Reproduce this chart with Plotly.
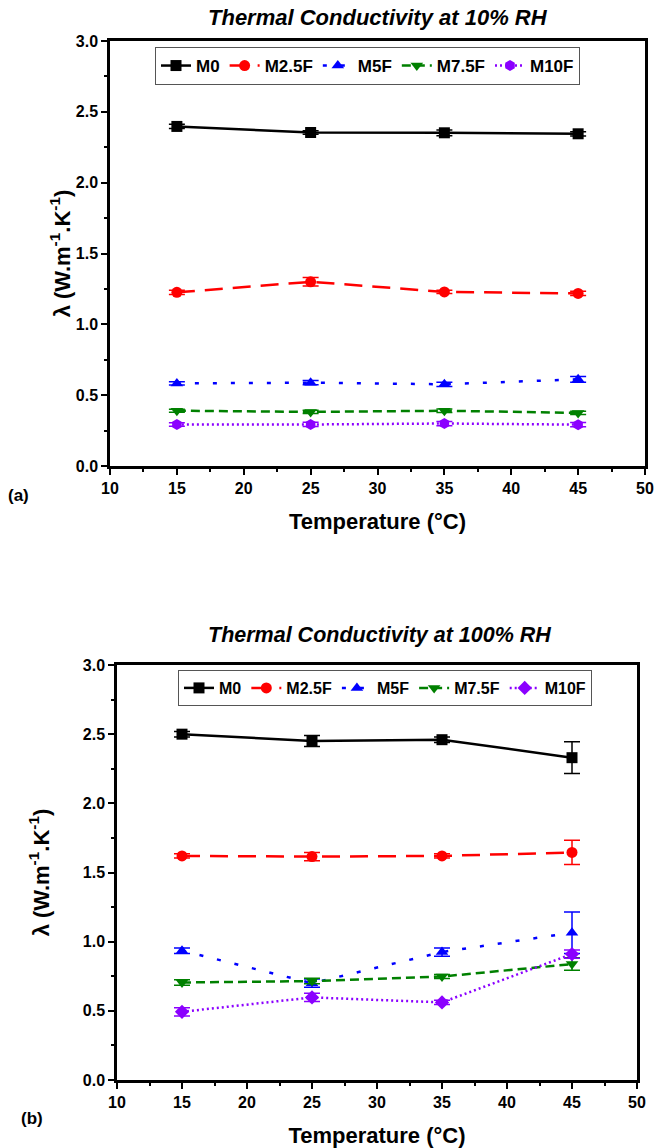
import plotly.graph_objects as go

temps = [15, 25, 35, 45]
series = ["M0", "M2.5F", "M5F", "M7.5F", "M10F"]

# 10% RH
rh10_M0 = [2.397, 2.354, 2.352, 2.345]
rh10_M25F = [1.226, 1.300, 1.229, 1.218]
rh10_M5F = [0.583, 0.588, 0.577, 0.612]
rh10_M75F = [0.390, 0.382, 0.390, 0.375]
rh10_M10F = [0.293, 0.293, 0.300, 0.292]
rh10_err_M0 = [0.015, 0.012, 0.02, 0.015]
rh10_err_M25F = [0.015, 0.03, 0.012, 0.015]
rh10_err_M5F = [0.012, 0.015, 0.015, 0.02]
rh10_err_M75F = [0.01, 0.012, 0.012, 0.012]
rh10_err_M10F = [0.012, 0.015, 0.015, 0.015]

# 100% RH
rh100_M0 = [2.500, 2.450, 2.460, 2.330]
rh100_M25F = [1.620, 1.615, 1.620, 1.645]
rh100_M5F = [0.935, 0.700, 0.925, 1.065]
rh100_M75F = [0.705, 0.715, 0.748, 0.838]
rh100_M10F = [0.493, 0.597, 0.561, 0.910]
rh100_err_M0 = [0.02, 0.04, 0.02, 0.115]
rh100_err_M25F = [0.015, 0.03, 0.015, 0.088]
rh100_err_M5F = [0.02, 0.03, 0.03, 0.15]
rh100_err_M75F = [0.02, 0.02, 0.015, 0.045]
rh100_err_M10F = [0.03, 0.03, 0.015, 0.03]

colors = ["black", "#ff0000", "#0000ff", "#008000", "#8b00ff"]
dashes = ["solid", "18px,10px", "4px,14px", "9px,5px", "2px,3px"]
sym_top = ["square", "circle", "triangle-up", "triangle-down", "hexagon"]
sym_bot = ["square", "circle", "triangle-up", "triangle-down", "diamond"]

top_vals = [rh10_M0, rh10_M25F, rh10_M5F, rh10_M75F, rh10_M10F]
top_errs = [rh10_err_M0, rh10_err_M25F, rh10_err_M5F, rh10_err_M75F, rh10_err_M10F]
bot_vals = [rh100_M0, rh100_M25F, rh100_M5F, rh100_M75F, rh100_M10F]
bot_errs = [rh100_err_M0, rh100_err_M25F, rh100_err_M5F, rh100_err_M75F, rh100_err_M10F]

FONT = "Liberation Sans, Arial, sans-serif"
fig = go.Figure()

for i, name in enumerate(series):
    fig.add_trace(go.Scatter(
        x=temps, y=top_vals[i], name=name, mode="lines+markers",
        line=dict(color=colors[i], width=2.5, dash=dashes[i]),
        marker=dict(symbol=sym_top[i], size=11, color=colors[i]),
        error_y=dict(type="data", array=top_errs[i], color=colors[i], thickness=1.5, width=8),
        xaxis="x", yaxis="y", legend="legend"))
for i, name in enumerate(series):
    fig.add_trace(go.Scatter(
        x=temps, y=bot_vals[i], name=name, mode="lines+markers",
        line=dict(color=colors[i], width=2.5, dash=dashes[i]),
        marker=dict(symbol=sym_bot[i], size=11, color=colors[i]),
        error_y=dict(type="data", array=bot_errs[i], color=colors[i], thickness=1.5, width=8),
        xaxis="x2", yaxis="y2", legend="legend2"))

W, H = 654, 1148
def px_x(p): return p / W
def px_y(p): return 1 - p / H

tickfont = dict(family=FONT, size=16, color="black", weight="bold")
titlefont = dict(family=FONT, size=22, color="black", weight="bold")

xcommon = dict(range=[10, 50], tickvals=[10, 15, 20, 25, 30, 35, 40, 45, 50], ticks="outside",
               ticklen=6, tickwidth=2, tickcolor="black", showline=True, linewidth=2.5,
               linecolor="black", mirror=True, showgrid=False, zeroline=False, tickfont=tickfont,
               automargin=False,
               minor=dict(ticks="outside", ticklen=3, tickwidth=2, tickcolor="black", dtick=2.5, tick0=10))
ycommon = dict(range=[0, 3.0], tickvals=[0, 0.5, 1.0, 1.5, 2.0, 2.5, 3.0],
               ticktext=["0.0", "0.5", "1.0", "1.5", "2.0", "2.5", "3.0"], ticks="outside",
               ticklen=6, tickwidth=2, tickcolor="black", showline=True, linewidth=2.5,
               linecolor="black", mirror=True, showgrid=False, zeroline=False, tickfont=tickfont,
               automargin=False,
               minor=dict(ticks="outside", ticklen=3, tickwidth=2, tickcolor="black", dtick=0.25, tick0=0))

ytitle = "λ (W.m<sup>-1</sup>.K<sup>-1</sup>)"

fig.update_layout(
    width=W, height=H, margin=dict(l=0, r=0, t=0, b=0, autoexpand=False),
    paper_bgcolor="white", plot_bgcolor="white",
    font=dict(family=FONT, color="black"),
    xaxis=dict(domain=[px_x(110), px_x(645)], anchor="y",
               title=dict(text="Temperature (°C)", font=titlefont, standoff=18), **xcommon),
    yaxis=dict(domain=[px_y(466), px_y(41)], anchor="x",
               title=dict(text=ytitle, font=titlefont, standoff=0), **ycommon),
    xaxis2=dict(domain=[px_x(117), px_x(637)], anchor="y2",
                title=dict(text="Temperature (°C)", font=titlefont, standoff=20), **xcommon),
    yaxis2=dict(domain=[px_y(1080), px_y(665)], anchor="x2",
                title=dict(text=ytitle, font=titlefont, standoff=28), **ycommon),
    legend=dict(orientation="h", x=px_x(155), y=px_y(47), xanchor="left", yanchor="top",
                bordercolor="#555", borderwidth=1, bgcolor="white",
                font=dict(family=FONT, size=17, color="black", weight="bold"),
                itemwidth=30, tracegroupgap=0),
    legend2=dict(orientation="h", x=px_x(178), y=px_y(670), xanchor="left", yanchor="top",
                 bordercolor="#555", borderwidth=1, bgcolor="white",
                 font=dict(family=FONT, size=16, color="black", weight="bold"),
                 itemwidth=30, tracegroupgap=0),
    annotations=[
        dict(text="Thermal Conductivity at 10% RH", x=px_x(378), y=px_y(18), xref="paper", yref="paper",
             xanchor="center", yanchor="middle", showarrow=False,
             font=dict(family=FONT, size=22, color="black", weight="bold", style="italic")),
        dict(text="Thermal Conductivity at 100% RH", x=px_x(379), y=px_y(635), xref="paper", yref="paper",
             xanchor="center", yanchor="middle", showarrow=False,
             font=dict(family=FONT, size=21.5, color="black", weight="bold", style="italic")),
        dict(text="(a)", x=px_x(18), y=px_y(495), xref="paper", yref="paper", showarrow=False,
             xanchor="center", yanchor="middle",
             font=dict(family=FONT, size=17, color="black", weight="bold")),
        dict(text="(b)", x=px_x(32), y=px_y(1118), xref="paper", yref="paper", showarrow=False,
             xanchor="center", yanchor="middle",
             font=dict(family=FONT, size=17, color="black", weight="bold")),
    ],
)

fig.write_html("out.html", config={"displayModeBar": False},
               post_script="document.body.style.margin='0';document.body.style.overflow='hidden';")
